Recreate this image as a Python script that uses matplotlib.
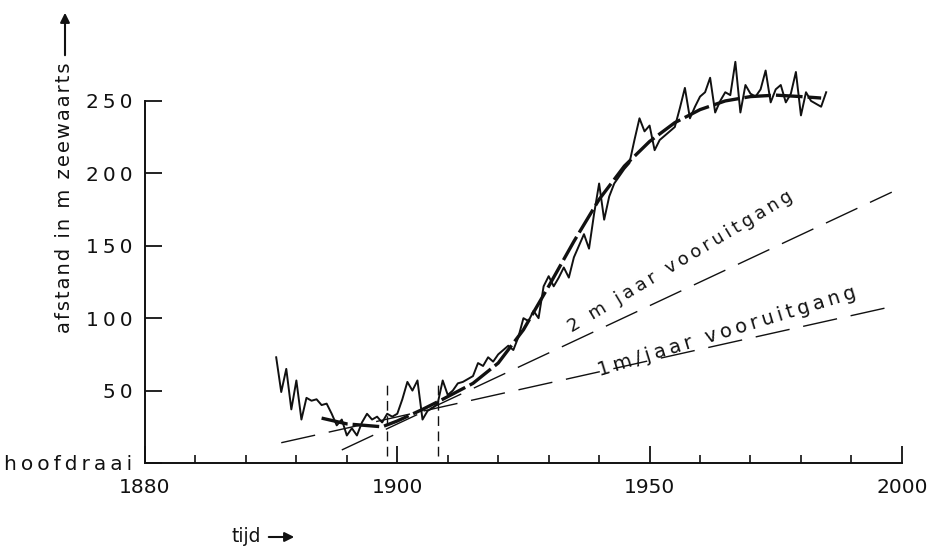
import matplotlib
matplotlib.use("Agg")
import matplotlib.pyplot as plt
from matplotlib.ticker import FixedLocator

plt.rcParams["font.family"] = ["DejaVu Sans"]

THIN = "\u2009"
HAIR = "\u200a"


def spaced(s, sp=THIN):
    # the scanned lettering is widely spaced
    return sp.join(s)


# yearly position of the shoreline (m seaward of the hoofdraai)
years = list(range(1876, 1986))
afstand = [73, 49, 65, 37, 57, 30, 45, 43, 44, 40,
           41, 34, 26, 30, 19, 24, 19, 28, 34, 30,
           32, 28, 34, 32, 34, 44, 56, 50, 57, 30,
           36, 38, 41, 57, 47, 50, 55, 56, 58, 60,
           69, 67, 73, 70, 75, 78, 81, 78, 87, 100,
           98, 105, 100, 122, 129, 122, 128, 135, 128, 142,
           150, 158, 148, 172, 193, 168, 184, 193, 198, 203,
           207, 223, 238, 229, 233, 216, 223, 226, 229, 232,
           245, 259, 238, 246, 253, 256, 266, 242, 250, 256,
           254, 277, 242, 261, 255, 253, 258, 271, 249, 258,
           261, 249, 255, 270, 240, 256, 250, 248, 246, 256]

# smoothed trend
trend_years = [1885, 1890, 1897, 1900, 1905, 1909, 1915, 1920, 1925, 1930,
               1935, 1940, 1945, 1950, 1955, 1960, 1965, 1970, 1975, 1980, 1984]
trend = [31, 27, 25, 29, 37, 44, 55, 69, 92, 122,
         153, 182, 205, 222, 235, 244, 250, 253, 254, 253, 252]

# reference lines
twom_years = [1889, 1998]
twom = [9, 187]
onem_years = [1877, 1998]
onem = [14, 108]

# period markers
markers = [1898, 1908]

xtick_pos = [1850, 1900, 1950, 2000]
xtick_labels = ["1880", "1900", "1950", "2000"]
ytick_pos = [0, 50, 100, 150, 200, 250]
ytick_labels = ["hoofdraai", "50", "100", "150", "200", "250"]

ink = "#111111"

fig = plt.figure(figsize=(9.36, 5.51), dpi=100)
ax = fig.add_axes([145 / 936, 88 / 551, 772 / 936, 420 / 551])
ax.set_xlim(1850, 2003)
ax.set_ylim(0, 290)

ax.plot(years, afstand, color=ink, lw=1.4)
ax.plot(trend_years, trend, color=ink, lw=2.4, dashes=(8, 1.5))
ax.plot(twom_years, twom, color=ink, lw=1.0, dashes=(25, 10))
ax.plot(onem_years, onem, color=ink, lw=1.0, dashes=(25, 10))
for m in markers:
    ax.plot([m, m], [5, 55], color=ink, lw=1.0, dashes=(7, 4))

ax.text(1934.6, 90, spaced("2 m jaar vooruitgang"), rotation=31,
        rotation_mode="anchor", ha="left", va="baseline", fontsize=13, color=ink)
ax.text(1940.2, 60, spaced("1m/jaar vooruitgang"), rotation=17,
        rotation_mode="anchor", ha="left", va="baseline", fontsize=14, color=ink)

for s in ["top", "right"]:
    ax.spines[s].set_visible(False)
ax.spines["left"].set_bounds(0, 250)
ax.spines["bottom"].set_bounds(1850, 2000)
for s in ["left", "bottom"]:
    ax.spines[s].set_linewidth(1.4)
    ax.spines[s].set_color(ink)

ax.set_xticks(xtick_pos, labels=xtick_labels)
ax.xaxis.set_minor_locator(FixedLocator([y for y in range(1860, 2000, 10) if y % 50]))
ax.set_yticks(ytick_pos, labels=[spaced(t) for t in ytick_labels])
ax.tick_params(axis="x", which="major", direction="in", length=12, width=1.3,
               pad=11, labelsize=14.5, colors=ink)
ax.tick_params(axis="x", which="minor", direction="in", length=6, width=1.2, colors=ink)
ax.tick_params(axis="y", direction="in", length=12, width=1.3, pad=9,
               labelsize=14.5, colors=ink)

fig.text(65 / 936, 1 - 198 / 551, spaced("afstand in m zeewaarts", HAIR), rotation=90,
         ha="center", va="center", fontsize=14, color=ink)
ax.annotate("", xy=(65 / 936, 541 / 551), xytext=(65 / 936, 493 / 551),
            xycoords="figure fraction", textcoords="figure fraction",
            arrowprops=dict(arrowstyle="-|>", color=ink, lw=1.5, mutation_scale=14))
fig.text(232 / 936, 14 / 551, "tijd", ha="left", va="center",
         fontsize=13.5, color=ink)
ax.annotate("", xy=(297 / 936, 14 / 551), xytext=(266 / 936, 14 / 551),
            xycoords="figure fraction", textcoords="figure fraction",
            arrowprops=dict(arrowstyle="-|>", color=ink, lw=1.5, mutation_scale=14))

fig.savefig("out.png", dpi=100, facecolor="white")
